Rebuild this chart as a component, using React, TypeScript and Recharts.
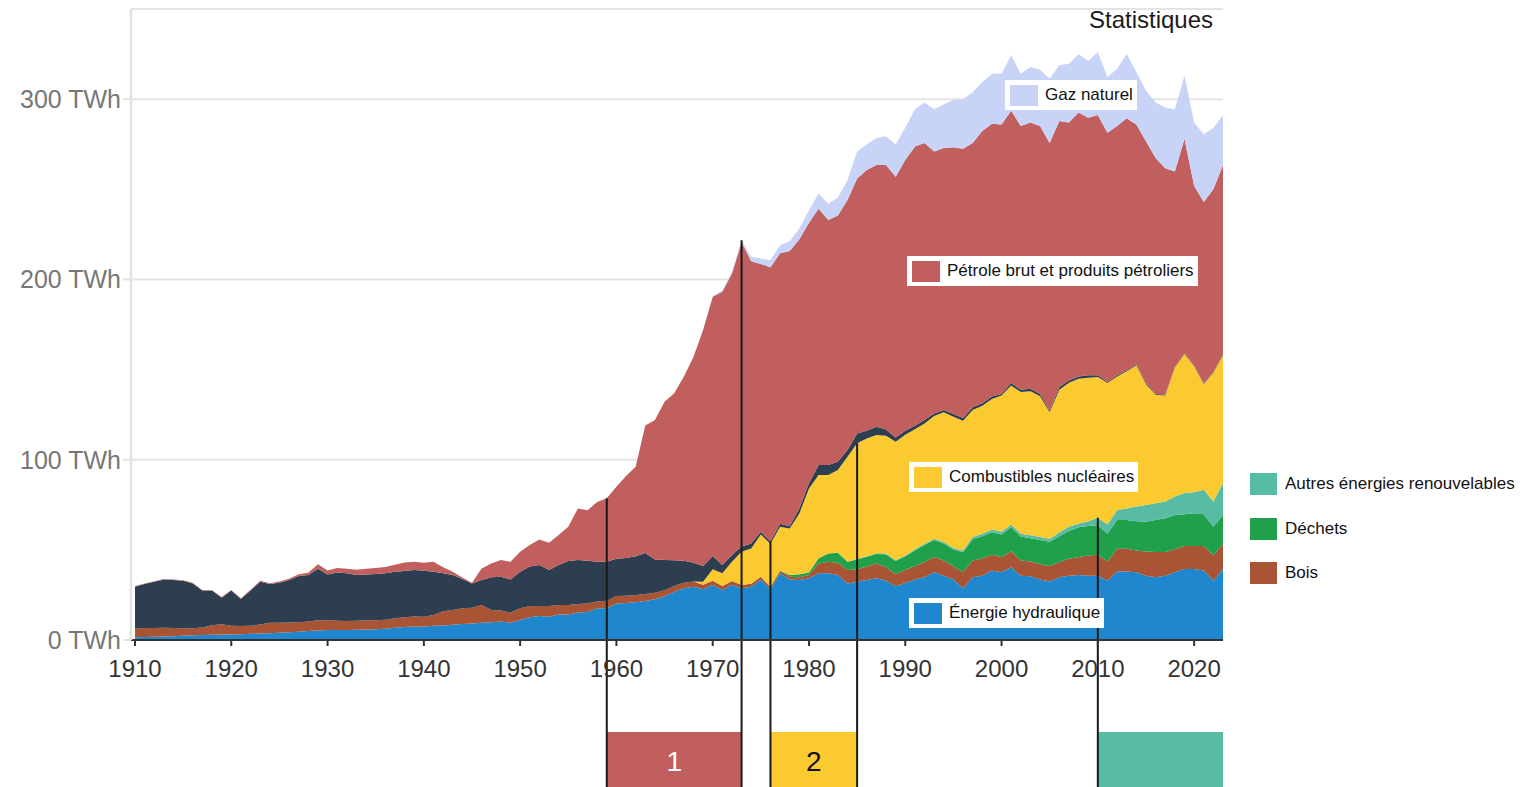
import React from 'react';
import {
  AreaChart,
  Area,
  XAxis,
  YAxis,
  CartesianGrid,
  ReferenceLine,
  ReferenceArea,
} from 'recharts';

// years 1910 .. 2023
const years: number[] = [];
for (let y = 1910; y <= 2023; y++) years.push(y);

// TWh per year (stack order bottom -> top)
const hydro = [
  1.5, 1.6, 1.8, 2.0, 2.1, 2.4, 2.6, 2.8, 2.9, 3.0,
  3.1, 3.2, 3.4, 3.6, 3.8, 4.0, 4.3, 4.6, 5.0, 5.3,
  5.5, 5.5, 5.6, 5.7, 5.8, 5.9, 6.3, 6.8, 7.2, 7.5,
  7.4, 7.9, 8.1, 8.5, 8.9, 9.2, 9.6, 9.8, 10.2, 9.6,
  11.1, 12.6, 13.3, 12.9, 14.2, 14.2, 15.2, 15.5, 17.6, 17.6,
  20.2, 20.5, 21.0, 21.7, 22.6, 24.2, 26.8, 28.7, 29.6, 28.1,
  30.5, 27.7, 30.5, 28.7, 29.6, 33.6, 28.1, 37.0, 33.6, 33.3,
  34.2, 37.0, 37.0, 36.0, 31.4, 32.3, 33.3, 34.2, 33.0, 29.8,
  31.6, 33.5, 34.8, 37.6, 35.7, 33.5, 28.6, 34.8, 35.7, 38.5,
  37.6, 40.4, 35.7, 35.3, 33.5, 32.4, 34.8, 35.7, 36.1, 35.7,
  35.7, 32.9, 38.0, 38.0, 37.6, 35.7, 34.8, 35.7, 37.6, 39.4,
  39.4, 38.5, 32.9, 39.4,
];

const bois = [
  5.0, 5.0, 4.9, 4.8, 4.6, 4.1, 3.9, 4.2, 5.3, 5.8,
  4.8, 4.6, 4.5, 5.0, 5.7, 5.6, 5.4, 5.3, 5.2, 5.6,
  5.5, 5.2, 5.0, 5.0, 5.1, 5.1, 5.0, 5.2, 5.4, 5.6,
  5.5, 6.0, 7.9, 8.1, 8.7, 8.7, 9.8, 6.8, 6.1, 5.6,
  6.5, 6.3, 5.6, 6.0, 5.2, 5.2, 4.8, 4.8, 3.7, 4.2,
  4.2, 4.0, 3.9, 3.8, 3.6, 3.4, 3.2, 3.0, 2.8, 2.6,
  2.4, 2.3, 2.2, 1.8, 1.6, 1.5, 1.5, 1.4, 1.5, 1.5,
  1.8, 5.5, 6.4, 6.9, 7.4, 6.9, 7.4, 8.3, 7.5, 6.7,
  7.3, 7.4, 8.4, 8.4, 8.4, 7.4, 9.0, 9.3, 9.7, 8.8,
  8.4, 8.8, 8.4, 8.2, 8.7, 8.5, 8.4, 9.3, 9.9, 11.2,
  11.6, 10.7, 12.6, 12.6, 12.1, 13.4, 14.0, 13.1, 12.7, 12.7,
  12.7, 13.6, 14.0, 14.0,
];

const dechets = [
  0, 0, 0, 0, 0, 0, 0, 0, 0, 0,
  0, 0, 0, 0, 0, 0, 0, 0, 0, 0,
  0, 0, 0, 0, 0, 0, 0, 0, 0, 0,
  0, 0, 0, 0, 0, 0, 0, 0, 0, 0,
  0, 0, 0, 0, 0, 0, 0, 0, 0, 0,
  0, 0, 0, 0, 0, 0, 0, 0, 0, 0,
  0, 0, 0, 0, 0, 0, 0, 0, 0.9, 1.7,
  1.5, 2.8, 4.6, 5.5, 4.6, 5.5, 5.5, 5.2, 7.0, 7.3,
  7.5, 8.8, 9.5, 9.4, 9.4, 9.3, 11.1, 11.9, 12.2, 12.5,
  12.5, 13.4, 13.3, 13.0, 13.3, 13.6, 14.4, 15.5, 16.6, 16.4,
  16.4, 15.4, 15.9, 15.9, 16.2, 16.5, 17.7, 18.7, 19.0, 17.6,
  18.2, 17.6, 15.9, 15.9,
];

const autres = [
  0, 0, 0, 0, 0, 0, 0, 0, 0, 0,
  0, 0, 0, 0, 0, 0, 0, 0, 0, 0,
  0, 0, 0, 0, 0, 0, 0, 0, 0, 0,
  0, 0, 0, 0, 0, 0, 0, 0, 0, 0,
  0, 0, 0, 0, 0, 0, 0, 0, 0, 0,
  0, 0, 0, 0, 0, 0, 0, 0, 0, 0,
  0, 0, 0, 0, 0, 0, 0, 0, 0, 0,
  0, 0, 0, 0, 0, 0.3, 0.3, 0.4, 0.5, 0.5,
  0.5, 0.6, 0.7, 0.8, 0.9, 0.8, 1.0, 1.2, 1.4, 1.5,
  1.5, 1.5, 1.6, 1.6, 1.7, 1.7, 2.0, 2.3, 2.0, 2.6,
  4.1, 5.1, 5.6, 6.5, 8.1, 9.3, 9.3, 9.3, 10.3, 11.8,
  11.7, 13.6, 14.0, 17.8,
];

const nucleaire = [
  0, 0, 0, 0, 0, 0, 0, 0, 0, 0,
  0, 0, 0, 0, 0, 0, 0, 0, 0, 0,
  0, 0, 0, 0, 0, 0, 0, 0, 0, 0,
  0, 0, 0, 0, 0, 0, 0, 0, 0, 0,
  0, 0, 0, 0, 0, 0, 0, 0, 0, 0,
  0, 0, 0, 0, 0, 0, 0, 0, 0, 1.6,
  6.3, 7.0, 10.7, 18.5, 19.6, 23.4, 23.8, 24.4, 25.9, 33.7,
  46.6, 46.2, 43.5, 45.9, 58.3, 64.1, 65.3, 65.6, 65.3, 65.7,
  66.9, 66.6, 66.7, 68.0, 71.9, 72.8, 71.9, 70.4, 71.0, 72.4,
  75.6, 77.1, 78.5, 79.9, 78.0, 70.1, 79.2, 79.9, 80.3, 79.6,
  78.1, 78.4, 74.1, 76.0, 78.4, 66.9, 60.2, 58.8, 71.5, 77.1,
  70.0, 58.5, 71.5, 70.9,
];

const charbon = [
  23.1, 24.4, 25.6, 26.8, 26.6, 26.4, 24.9, 20.4, 19.2, 14.7,
  19.5, 14.9, 19.5, 23.7, 21.5, 22.2, 23.6, 25.6, 25.8, 28.6,
  25.4, 26.8, 26.4, 25.3, 25.4, 25.6, 25.7, 25.8, 25.7, 25.7,
  25.5, 24.0, 21.0, 19.4, 16.2, 13.5, 13.9, 18.2, 18.8, 18.4,
  20.3, 21.8, 22.7, 19.9, 22.2, 24.4, 24.4, 23.7, 22.1, 21.6,
  20.6, 21.0, 21.6, 22.7, 18.5, 16.8, 14.2, 12.3, 10.4, 8.7,
  7.4, 4.6, 3.7, 2.8, 2.7, 1.5, 1.4, 1.7, 1.2, 2.8,
  2.8, 5.5, 5.5, 4.6, 3.7, 5.5, 4.2, 4.6, 3.4, 2.3,
  2.2, 1.9, 1.9, 1.5, 1.3, 1.5, 1.5, 1.5, 1.3, 1.3,
  0.9, 1.3, 1.3, 1.3, 1.3, 0.9, 1.5, 1.3, 1.3, 1.3,
  0.9, 0.6, 0.6, 0.6, 0.6, 0.7, 0.5, 0.6, 0.4, 0.3,
  0.4, 0.3, 0.4, 0.4,
];

const petrole = [
  0.3, 0.3, 0.3, 0.3, 0.3, 0.3, 0.3, 0.2, 0.2, 0.3,
  0.4, 0.4, 0.5, 0.5, 0.5, 0.7, 0.7, 1.0, 1.3, 2.5,
  2.1, 2.5, 2.5, 3.0, 3.2, 3.4, 3.5, 4.0, 4.7, 4.6,
  4.5, 5.5, 3.3, 1.9, 0.8, 0.4, 6.4, 7.7, 9.3, 9.8,
  11.1, 12.0, 14.2, 15.2, 16.6, 19.0, 28.6, 28.0, 33.1, 35.2,
  40.0, 45.4, 49.6, 70.8, 77.3, 87.8, 92.6, 102.0, 114.2, 131.0,
  143.8, 151.6, 156.2, 168.8, 156.6, 148.6, 151.9, 150.0, 152.6, 149.3,
  144.5, 142.2, 136.0, 136.6, 138.6, 141.4, 144.7, 145.2, 146.8, 144.7,
  150.3, 155.0, 153.7, 145.3, 145.3, 148.0, 149.4, 146.6, 151.0, 151.4,
  149.5, 151.0, 146.3, 147.7, 148.6, 148.5, 147.6, 143.0, 146.4, 142.9,
  144.4, 138.2, 138.3, 139.8, 133.0, 134.1, 130.8, 125.5, 108.3, 119.1,
  99.6, 100.9, 101.3, 105.1,
];

const gaz = [
  0, 0, 0, 0, 0, 0, 0, 0, 0, 0,
  0, 0, 0, 0, 0, 0, 0, 0, 0, 0,
  0, 0, 0, 0, 0, 0, 0, 0, 0, 0,
  0, 0, 0, 0, 0, 0, 0, 0, 0, 0,
  0, 0, 0, 0, 0, 0, 0, 0, 0, 0,
  0, 0, 0, 0, 0, 0, 0, 0, 0, 0,
  0.5, 0.7, 1.0, 1.2, 2.5, 3.0, 4.0, 4.5, 5.5, 6.0,
  7.0, 8.5, 9.0, 10.0, 11.0, 15.0, 14.1, 15.0, 15.9, 17.8,
  17.8, 20.6, 22.5, 23.4, 24.3, 26.2, 27.5, 28.1, 27.1, 27.7,
  28.1, 30.9, 29.0, 30.8, 31.2, 35.6, 30.9, 32.7, 32.3, 31.5,
  35.0, 30.9, 31.8, 35.6, 29.0, 28.1, 30.9, 33.7, 34.6, 35.0,
  35.0, 37.5, 34.0, 27.5,
];

const xTicks = [1910, 1920, 1930, 1940, 1950, 1960, 1970, 1980, 1990, 2000, 2010, 2020];
const yTicks = [0, 100, 200, 300];

// vertical markers: year and the stack level where the line starts
const markerYears = [1959, 1973, 1976, 1985, 2010];
const markerTops = [78.6, 221.8, 54.8, 109.1, 67.8];

// periods shown as boxes below the axis
const periodStarts = [1959, 1976, 2010];
const periodEnds = [1973, 1985, 2023];
const periodLabels = ['1', '2', ''];

const series = [
  { key: 'hydro', name: 'Énergie hydraulique', color: '#1f87cd', values: hydro },
  { key: 'bois', name: 'Bois', color: '#a85435', values: bois },
  { key: 'dechets', name: 'Déchets', color: '#21a04b', values: dechets },
  { key: 'autres', name: 'Autres énergies renouvelables', color: '#58bca4', values: autres },
  { key: 'nucleaire', name: 'Combustibles nucléaires', color: '#fbca30', values: nucleaire },
  { key: 'charbon', name: 'Charbon', color: '#2c3e50', values: charbon },
  { key: 'petrole', name: 'Pétrole brut et produits pétroliers', color: '#c15f5e', values: petrole },
  { key: 'gaz', name: 'Gaz naturel', color: '#c8d4f7', values: gaz },
];

const data = years.map((year, i) => {
  const row: Record<string, number> = { year };
  series.forEach((s) => {
    row[s.key] = s.values[i];
  });
  return row;
});

const periodColors = ['#c15f5e', '#fbca30', '#58bca4'];
const periodTextColors = ['#ffffff', '#111111', '#111111'];

// label boxes placed inside the plot
const inlineLabels = [
  { key: 'gaz', left: 1005, top: 80 },
  { key: 'petrole', left: 907, top: 256 },
  { key: 'nucleaire', left: 909, top: 462 },
  { key: 'hydro', left: 909, top: 598 },
];
const sideLegend = [
  { key: 'autres', top: 473 },
  { key: 'dechets', top: 518 },
  { key: 'bois', top: 562 },
];

const FONT = "'Liberation Sans', Arial, sans-serif";

const findSeries = (key: string) => series.find((s) => s.key === key)!;

const App: React.FC = () => {
  return (
    <div style={{ position: 'absolute', left: 0, top: 0, width: 1522, height: 787, overflow: 'hidden', fontFamily: FONT, background: '#fff' }}>
      <AreaChart
        width={1522}
        height={787}
        data={data}
        margin={{ top: 9, right: 299, bottom: 0, left: 0 }}
        style={{ fontFamily: FONT }}
      >
        <CartesianGrid vertical={false} stroke="#e4e4e4" strokeWidth={2} />
        <XAxis
          dataKey="year"
          type="number"
          domain={[1910, 2023]}
          ticks={xTicks}
          interval={0}
          height={147}
          padding={{ left: 4, right: 0 }}
          tickSize={6}
          tickMargin={14}
          axisLine={{ stroke: '#333', strokeWidth: 2 }}
          tickLine={{ stroke: '#333', strokeWidth: 2 }}
          tick={{ fill: '#333', fontSize: 24 }}
        />
        <YAxis
          type="number"
          domain={[0, 350]}
          ticks={yTicks}
          width={131}
          tickSize={8}
          tickMargin={2}
          axisLine={{ stroke: '#e2e2e2', strokeWidth: 2.5 }}
          tickLine={{ stroke: '#e2e2e2', strokeWidth: 2 }}
          tick={{ fill: '#777', fontSize: 25 }}
          tickFormatter={(v: number) => `${v} TWh`}
        />
        {series.map((s) => (
          <Area
            key={s.key}
            type="linear"
            dataKey={s.key}
            name={s.name}
            stackId="1"
            stroke="none"
            fill={s.color}
            fillOpacity={1}
            isAnimationActive={false}
            dot={false}
            activeDot={false}
          />
        ))}
        {periodStarts.map((start, i) => (
          <ReferenceArea
            key={`p${i}`}
            x1={start}
            x2={periodEnds[i]}
            y1={-51}
            y2={-83}
            fill={periodColors[i]}
            fillOpacity={1}
            stroke="none"
            ifOverflow="visible"
            label={
              periodLabels[i]
                ? { value: periodLabels[i], position: 'center', fill: periodTextColors[i], fontSize: 28, fontFamily: FONT }
                : undefined
            }
          />
        ))}
        {markerYears.map((yr, i) => (
          <ReferenceLine
            key={`m${i}`}
            segment={[
              { x: yr, y: markerTops[i] },
              { x: yr, y: -83 },
            ]}
            stroke="#1a1a1a"
            strokeWidth={2}
            ifOverflow="visible"
          />
        ))}
      </AreaChart>

      <div style={{ position: 'absolute', left: 1089, top: 8, fontSize: 24, lineHeight: '24px', color: '#1a1a1a' }}>
        Statistiques
      </div>

      {inlineLabels.map((l) => {
        const s = findSeries(l.key);
        return (
          <div
            key={l.key}
            style={{
              position: 'absolute',
              left: l.left,
              top: l.top,
              height: 30,
              padding: '0 4px 0 5px',
              background: '#fff',
              display: 'flex',
              alignItems: 'center',
              whiteSpace: 'nowrap',
              fontSize: 17,
              color: '#111',
            }}
          >
            <span style={{ display: 'inline-block', width: 28, height: 21, background: s.color, marginRight: 7 }} />
            {s.name}
          </div>
        );
      })}

      {sideLegend.map((l) => {
        const s = findSeries(l.key);
        return (
          <div
            key={l.key}
            style={{
              position: 'absolute',
              left: 1250,
              top: l.top,
              height: 22,
              display: 'flex',
              alignItems: 'center',
              whiteSpace: 'nowrap',
              fontSize: 17,
              color: '#111',
            }}
          >
            <span style={{ display: 'inline-block', width: 27, height: 22, background: s.color, marginRight: 8 }} />
            {s.name}
          </div>
        );
      })}
    </div>
  );
};

export default App;
